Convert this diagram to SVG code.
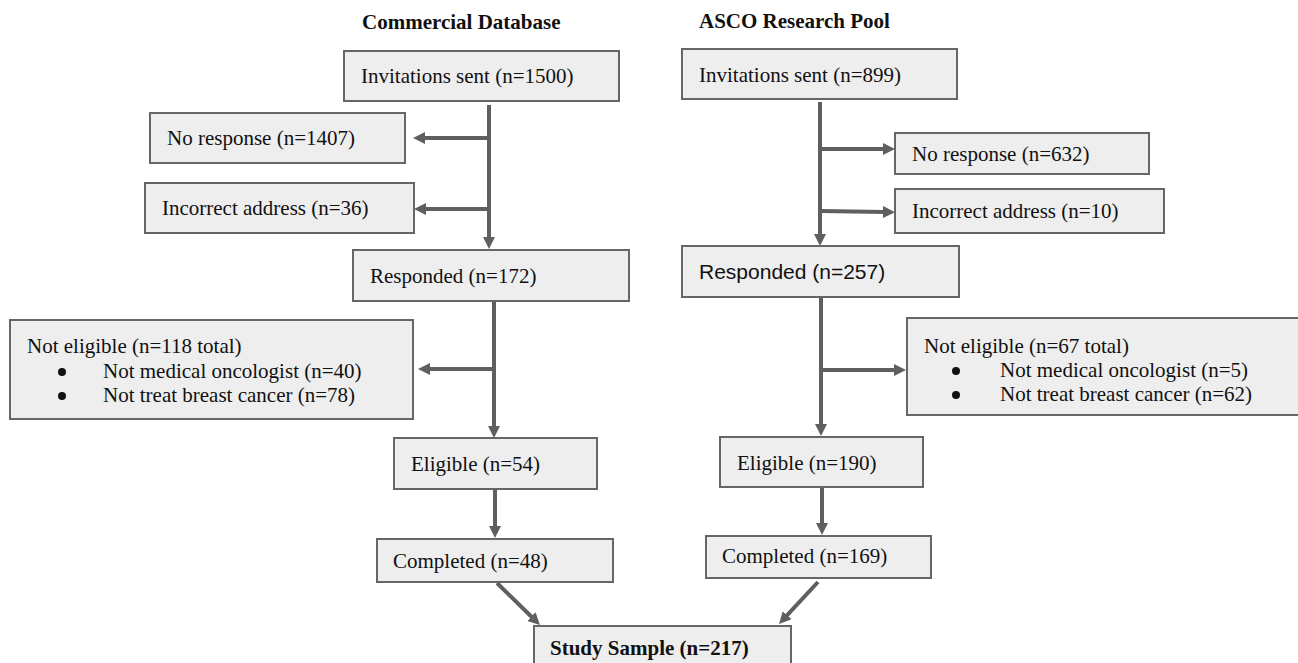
<svg xmlns="http://www.w3.org/2000/svg" width="1298" height="663" viewBox="0 0 1298 663">
<defs>
<style>
.box{fill:#eeeeee;stroke:#666666;stroke-width:2}
.t{font-family:"Liberation Serif","Times New Roman",serif;font-size:21px;fill:#111111}
.ts{font-family:"Liberation Sans",Arial,sans-serif;font-size:21px;fill:#111111}
.tb{font-family:"Liberation Serif","Times New Roman",serif;font-size:21px;font-weight:bold;fill:#111111}
.c{fill:none;stroke:#5f5f5f;stroke-width:4;marker-end:url(#ah)}
.dot{fill:#111111}
</style>
<marker id="ah" viewBox="0 0 12 12" refX="2" refY="6" markerWidth="12" markerHeight="12" markerUnits="userSpaceOnUse" orient="auto">
<path d="M0,0 L12,6 L0,12 z" fill="#5f5f5f"/>
</marker>
</defs>
<rect width="1298" height="663" fill="#ffffff"/>
<g id="titles">
<text class="tb" x="362" y="29">Commercial Database</text>
<text class="tb" x="699" y="28">ASCO Research Pool</text>
</g>
<g id="connectors">
<path class="c" d="M489,105 L489,239"/>
<path class="c" d="M489,138 L423,138"/>
<path class="c" d="M489,209 L424,209"/>
<path class="c" d="M494,302 L494,428"/>
<path class="c" d="M494,369 L428,369"/>
<path class="c" d="M495,490 L495,528"/>
<path class="c" d="M497,583 L532.8,618"/>
<path class="c" d="M820,102 L820,236"/>
<path class="c" d="M820,149 L885,149"/>
<path class="c" d="M820,211 L885,212"/>
<path class="c" d="M821,298 L821,426"/>
<path class="c" d="M821,370 L896,370"/>
<path class="c" d="M822,488 L822,525"/>
<path class="c" d="M818,582 L785.8,616.7"/>
</g>
<g id="cd_invitations">
<rect class="box" x="344" y="51" width="275" height="50"/>
<text class="t" x="361" y="83">Invitations sent (n=1500)</text>
</g>
<g id="cd_noresponse">
<rect class="box" x="150" y="113" width="255" height="50"/>
<text class="t" x="167" y="145">No response (n=1407)</text>
</g>
<g id="cd_incorrect">
<rect class="box" x="145" y="183" width="269" height="50"/>
<text class="t" x="162" y="215">Incorrect address (n=36)</text>
</g>
<g id="cd_responded">
<rect class="box" x="353" y="250" width="276" height="51"/>
<text class="t" x="370" y="283">Responded (n=172)</text>
</g>
<g id="cd_noteligible">
<rect class="box" x="10" y="320" width="403" height="99"/>
<text class="t" x="27" y="353">Not eligible (n=118 total)</text>
<circle class="dot" cx="62" cy="372" r="4"/>
<text class="t" x="103" y="378">Not medical oncologist (n=40)</text>
<circle class="dot" cx="62" cy="396" r="4"/>
<text class="t" x="103" y="402">Not treat breast cancer (n=78)</text>
</g>
<g id="cd_eligible">
<rect class="box" x="394" y="438" width="203" height="51"/>
<text class="t" x="411" y="471">Eligible (n=54)</text>
</g>
<g id="cd_completed">
<rect class="box" x="377" y="539" width="236" height="43"/>
<text class="t" x="393" y="568">Completed (n=48)</text>
</g>
<g id="asco_invitations">
<rect class="box" x="682" y="49" width="275" height="50"/>
<text class="t" x="699" y="82">Invitations sent (n=899)</text>
</g>
<g id="asco_noresponse">
<rect class="box" x="895" y="133" width="254" height="41"/>
<text class="t" x="912" y="161">No response (n=632)</text>
</g>
<g id="asco_incorrect">
<rect class="box" x="895" y="189" width="269" height="44"/>
<text class="t" x="912" y="218">Incorrect address (n=10)</text>
</g>
<g id="asco_responded">
<rect class="box" x="682" y="246" width="277" height="51"/>
<text class="ts" x="699" y="279">Responded (n=257)</text>
</g>
<g id="asco_noteligible">
<rect class="box" x="907" y="318" width="400" height="97"/>
<text class="t" x="924" y="353">Not eligible (n=67 total)</text>
<circle class="dot" cx="956" cy="371" r="4"/>
<text class="t" x="1000" y="377">Not medical oncologist (n=5)</text>
<circle class="dot" cx="956" cy="395" r="4"/>
<text class="t" x="1000" y="401">Not treat breast cancer (n=62)</text>
</g>
<g id="asco_eligible">
<rect class="box" x="720" y="437" width="203" height="50"/>
<text class="t" x="737" y="470">Eligible (n=190)</text>
</g>
<g id="asco_completed">
<rect class="box" x="706" y="536" width="225" height="42"/>
<text class="t" x="722" y="563">Completed (n=169)</text>
</g>
<g id="study_sample">
<rect class="box" x="534" y="626" width="257" height="60"/>
<text class="tb" x="550" y="655">Study Sample (n=217)</text>
</g>
</svg>
